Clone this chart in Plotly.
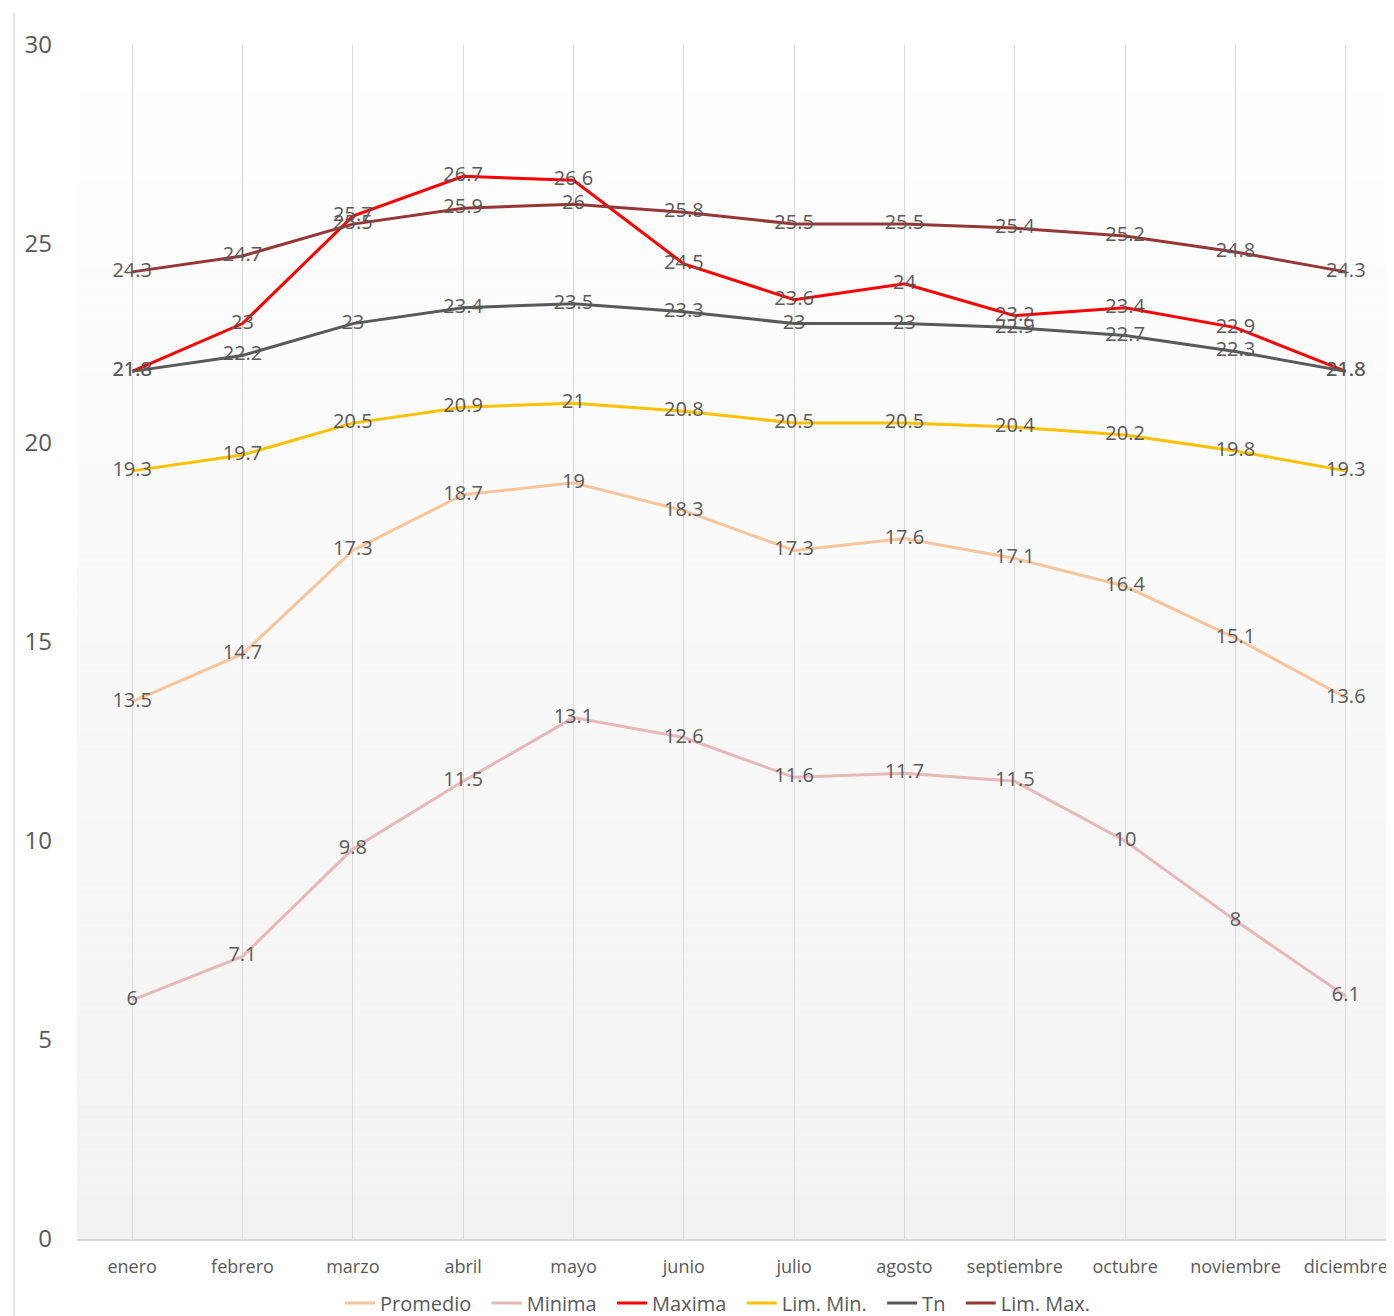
import plotly.graph_objects as go

months = ["enero", "febrero", "marzo", "abril", "mayo", "junio", "julio",
          "agosto", "septiembre", "octubre", "noviembre", "diciembre"]
promedio = [13.5, 14.7, 17.3, 18.7, 19, 18.3, 17.3, 17.6, 17.1, 16.4, 15.1, 13.6]
minima = [6, 7.1, 9.8, 11.5, 13.1, 12.6, 11.6, 11.7, 11.5, 10, 8, 6.1]
maxima = [21.8, 23, 25.7, 26.7, 26.6, 24.5, 23.6, 24, 23.2, 23.4, 22.9, 21.8]
lim_min = [19.3, 19.7, 20.5, 20.9, 21, 20.8, 20.5, 20.5, 20.4, 20.2, 19.8, 19.3]
tn = [21.8, 22.2, 23, 23.4, 23.5, 23.3, 23, 23, 22.9, 22.7, 22.3, 21.8]
lim_max = [24.3, 24.7, 25.5, 25.9, 26, 25.8, 25.5, 25.5, 25.4, 25.2, 24.8, 24.3]

series = [
    ("Promedio", promedio, "#F8C49B"),
    ("Minima", minima, "#E6B9B8"),
    ("Maxima", maxima, "#FF0000"),
    ("Lim. Min.", lim_min, "#FFC000"),
    ("Tn", tn, "#595959"),
    ("Lim. Max.", lim_max, "#953735"),
]

FONT = "Open Sans"
TXT = "#595959"
PAD = "\u00a0\u00a0"

fig = go.Figure()
for name, vals, col in series:
    fig.add_trace(go.Scatter(
        x=months, y=vals, name=name + PAD, mode="lines+text",
        line=dict(color=col, width=3),
        text=[f"{v:g}" for v in vals], textposition="middle center",
        textfont=dict(family=FONT, size=20, color=TXT),
        cliponaxis=False,
    ))

# gradient background of plot area
shapes = []
N = 80
for i in range(N):
    t = (i + 0.5) / N  # 0 at bottom, 1 at top
    g = round(242 + (255 - 242) * t)
    shapes.append(dict(type="rect", xref="paper", yref="paper",
                       x0=0, x1=1, y0=i / N, y1=(i + 1) / N,
                       fillcolor=f"rgb({g},{g},{g})", line=dict(width=0),
                       layer="below"))
# left chart border line
shapes.append(dict(type="line", xref="paper", yref="paper",
                   x0=-0.0478, x1=-0.0478, y0=-0.07, y1=1.027,
                   line=dict(color="#D9D9D9", width=1.5)))

fig.update_layout(
    width=1386, height=1308,
    margin=dict(l=69, r=0, t=37, b=77, autoexpand=False),
    paper_bgcolor="white", plot_bgcolor="rgba(0,0,0,0)",
    font=dict(family=FONT, color=TXT),
    shapes=shapes,
    showlegend=True,
    legend=dict(orientation="h", x=0.4905, xanchor="center",
                y=-0.0536, yanchor="middle",
                font=dict(family=FONT, size=20, color=TXT),
                itemwidth=30, tracegroupgap=0),
    xaxis=dict(type="category", range=[-0.5, 11.437],
               showgrid=True, gridcolor="#D9D9D9", gridwidth=1,
               showline=True, linecolor="#D9D9D9", linewidth=1.5,
               zeroline=False, ticks="", ticklabelstandoff=11,
               tickfont=dict(family=FONT, size=18, color=TXT)),
    yaxis=dict(range=[0, 30], dtick=5, showgrid=False, zeroline=False,
               showline=False, ticks="", ticklabelstandoff=24,
               tickfont=dict(family=FONT, size=24, color=TXT)),
)

fig.write_html("out.html")
